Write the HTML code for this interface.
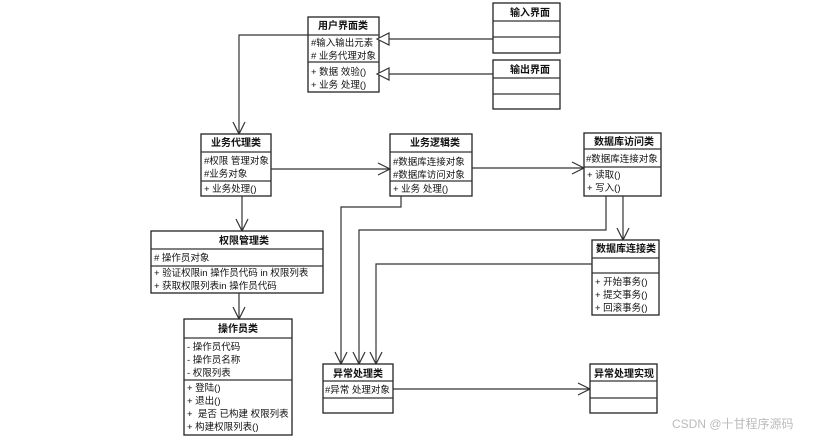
<!DOCTYPE html>
<html><head><meta charset="utf-8"><style>
html,body{margin:0;padding:0;background:#fff}
svg{display:block}
text{font-family:"Liberation Sans","Noto Sans CJK SC",sans-serif;font-size:9.5px;fill:#111}
.h{font-weight:bold;font-size:10px}
.b{fill:#fff;stroke:#222;stroke-width:1.3}
.l{stroke:#333;stroke-width:1.2;fill:none}
</style></head><body>
<svg width="816" height="441" viewBox="0 0 816 441">
<!-- 用户界面类 -->
<rect class="b" x="308" y="17" width="71" height="75"/>
<line class="l" x1="308" y1="35" x2="379" y2="35"/><line class="l" x1="308" y1="62" x2="379" y2="62"/>
<text class="h" x="343" y="29" text-anchor="middle">用户界面类</text>
<text x="311" y="46">#输入输出元素</text><text x="311" y="59">#&#160;业务代理对象</text>
<text x="311" y="75">+ 数据 效验()</text><text x="311" y="88">+ 业务 处理()</text>
<!-- 输入界面 -->
<rect class="b" x="493" y="3" width="67" height="50"/>
<line class="l" x1="493" y1="21" x2="560" y2="21"/><line class="l" x1="493" y1="37" x2="560" y2="37"/>
<text class="h" x="530" y="16" text-anchor="middle">输入界面</text>
<rect class="b" x="493" y="60" width="67" height="49"/>
<line class="l" x1="493" y1="78" x2="560" y2="78"/><line class="l" x1="493" y1="94" x2="560" y2="94"/>
<text class="h" x="530" y="73" text-anchor="middle">输出界面</text>
<!-- generalization -->
<line class="l" x1="493" y1="39" x2="388" y2="39"/><polygon points="377,39 389,33 389,45" fill="#fff" stroke="#333" stroke-width="1.2"/>
<line class="l" x1="493" y1="74" x2="388" y2="74"/><polygon points="377,74 389,68 389,80" fill="#fff" stroke="#333" stroke-width="1.2"/>
<!-- 用户界面 -> 业务代理 -->
<polyline class="l" points="308,35 239,35 239,134"/><polyline class="l" points="233,122 239,134 245,122"/>
<!-- 业务代理类 -->
<rect class="b" x="201" y="134" width="70" height="62"/>
<line class="l" x1="201" y1="152" x2="271" y2="152"/><line class="l" x1="201" y1="181" x2="271" y2="181"/>
<text class="h" x="236" y="146" text-anchor="middle">业务代理类</text>
<text x="204" y="164">#权限 管理对象</text><text x="204" y="177">#业务对象</text><text x="204" y="192">+ 业务处理()</text>
<!-- 业务逻辑类 -->
<rect class="b" x="390" y="134" width="82" height="62"/>
<line class="l" x1="390" y1="152" x2="472" y2="152"/><line class="l" x1="390" y1="181" x2="472" y2="181"/>
<text class="h" x="435" y="146" text-anchor="middle">业务逻辑类</text>
<text x="393" y="165">#数据库连接对象</text><text x="393" y="178">#数据库访问对象</text><text x="393" y="192">+ 业务 处理()</text>
<line class="l" x1="271" y1="169" x2="390" y2="169"/><polyline class="l" points="378,163 390,169 378,175"/>
<line class="l" x1="472" y1="168" x2="584" y2="168"/><polyline class="l" points="572,162 584,168 572,174"/>
<!-- 数据库访问类 -->
<rect class="b" x="584" y="133" width="77" height="63"/>
<line class="l" x1="584" y1="149" x2="661" y2="149"/><line class="l" x1="584" y1="167" x2="661" y2="167"/>
<text class="h" x="624" y="145" text-anchor="middle">数据库访问类</text>
<text x="586" y="162">#数据库连接对象</text><text x="587" y="178">+ 读取()</text><text x="587" y="191">+ 写入()</text>
<line class="l" x1="623" y1="196" x2="623" y2="240"/><polyline class="l" points="617,228 623,240 629,228"/>
<!-- 数据库连接类 -->
<rect class="b" x="592" y="240" width="67" height="75"/>
<line class="l" x1="592" y1="258" x2="659" y2="258"/><line class="l" x1="592" y1="273" x2="659" y2="273"/>
<text class="h" x="626" y="252" text-anchor="middle">数据库连接类</text>
<text x="595" y="285">+ 开始事务()</text><text x="595" y="298">+ 提交事务()</text><text x="595" y="311">+ 回滚事务()</text>
<!-- 权限管理类 -->
<line class="l" x1="242" y1="196" x2="242" y2="231"/><polyline class="l" points="236,219 242,231 248,219"/>
<rect class="b" x="151" y="231" width="172" height="62"/>
<line class="l" x1="151" y1="249" x2="323" y2="249"/><line class="l" x1="151" y1="266" x2="323" y2="266"/>
<text class="h" x="244" y="244" text-anchor="middle">权限管理类</text>
<text x="154" y="261"># 操作员对象</text>
<text x="154" y="276">+ 验证权限in 操作员代码 in 权限列表</text><text x="154" y="289">+ 获取权限列表in 操作员代码</text>
<line class="l" x1="239" y1="293" x2="239" y2="319"/><polyline class="l" points="233,307 239,319 245,307"/>
<!-- 操作员类 -->
<rect class="b" x="184" y="319" width="108" height="116"/>
<line class="l" x1="184" y1="338" x2="292" y2="338"/><line class="l" x1="184" y1="380" x2="292" y2="380"/>
<text class="h" x="238" y="332" text-anchor="middle">操作员类</text>
<text x="187" y="350">- 操作员代码</text><text x="187" y="363">- 操作员名称</text><text x="187" y="376">- 权限列表</text>
<text x="187" y="391">+ 登陆()</text><text x="187" y="404">+ 退出()</text><text x="187" y="417">+&#160;&#160;是否 已构建 权限列表</text><text x="187" y="430">+ 构建权限列表()</text>
<!-- lines to 异常处理类 -->
<polyline class="l" points="401,196 401,207 341,207 341,364"/><polyline class="l" points="335,352 341,364 347,352"/>
<polyline class="l" points="606,196 606,230 359,230 359,364"/><polyline class="l" points="353,352 359,364 365,352"/>
<polyline class="l" points="592,264 376,264 376,364"/><polyline class="l" points="370,352 376,364 382,352"/>
<!-- 异常处理类 -->
<rect class="b" x="323" y="364" width="70" height="49"/>
<line class="l" x1="323" y1="381" x2="393" y2="381"/><line class="l" x1="323" y1="398" x2="393" y2="398"/>
<text class="h" x="358" y="377" text-anchor="middle">异常处理类</text>
<text x="325" y="393">#异常 处理对象</text>
<line class="l" x1="393" y1="389" x2="590" y2="389"/><polyline class="l" points="578,383 590,389 578,395"/>
<rect class="b" x="590" y="364" width="67" height="49"/>
<line class="l" x1="590" y1="381" x2="657" y2="381"/><line class="l" x1="590" y1="398" x2="657" y2="398"/>
<text class="h" x="624" y="377" text-anchor="middle">异常处理实现</text>
<text x="672" y="428" style="font-size:12px;fill:#bbb">CSDN @十甘程序源码</text>
</svg>
</body></html>
